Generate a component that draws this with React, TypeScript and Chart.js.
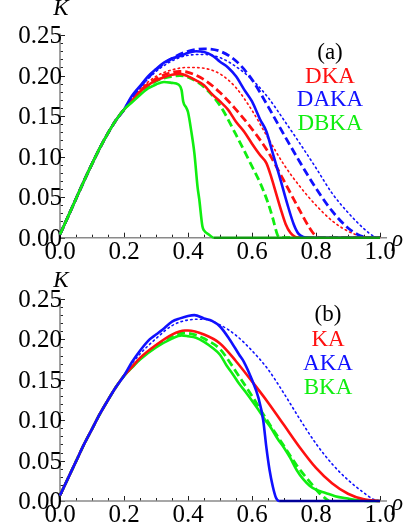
import React, { useEffect, useRef } from 'react';
import { Chart, registerables } from 'chart.js';

Chart.register(...registerables);

// ---------- colours ----------
const RED = '#ff1010';
const BLUE = '#1010ff';
const GREEN = '#10ee10';
const DARK_GREEN = '#119911';
const DARK_BLUE = '#000099';
const AXIS_COLOR = '#8a8a8a';
const FONT = '"Liberation Serif", "Times New Roman", serif';

// ---------- ticks ----------
const X_TICKS = [0, 0.2, 0.4, 0.6, 0.8, 1.0];
const X_TICK_LABELS = ['0.0', '0.2', '0.4', '0.6', '0.8', '1.0'];
const Y_TICKS = [0, 0.05, 0.1, 0.15, 0.2, 0.25];
const Y_TICK_LABELS = ['0.00', '0.05', '0.10', '0.15', '0.20', '0.25'];
const X_MINOR_STEP = 0.05;
const Y_MINOR_STEP = 0.01;
const X_AXIS_END = 1.022;
const Y_AXIS_END = 0.252;

// ---------- panel (a) data ----------
const A_RISE_X = [0, 0.025, 0.05, 0.075, 0.1, 0.125, 0.15, 0.175, 0.2];
const A_RISE_Y = [0.004, 0.026, 0.048, 0.07, 0.091, 0.111, 0.129, 0.145, 0.158];

const A_DKA_X = [0.225, 0.25, 0.275, 0.3, 0.325, 0.35, 0.375, 0.4, 0.425, 0.45, 0.475, 0.5, 0.525, 0.55, 0.575, 0.6, 0.625, 0.645, 0.66, 0.675, 0.69, 0.705, 0.72, 0.735, 0.75, 1.0];
const A_DKA_Y = [0.169, 0.18, 0.188, 0.194, 0.198, 0.201, 0.202, 0.199, 0.194, 0.188, 0.177, 0.168, 0.158, 0.143, 0.131, 0.116, 0.102, 0.092, 0.075, 0.055, 0.035, 0.017, 0.006, 0.001, 0, 0];

const A_DKA_DASH_X = [0.225, 0.25, 0.3, 0.35, 0.375, 0.4, 0.45, 0.5, 0.55, 0.6, 0.65, 0.7, 0.75, 0.78, 0.8, 0.82, 1.0];
const A_DKA_DASH_Y = [0.17, 0.181, 0.196, 0.204, 0.205, 0.204, 0.195, 0.179, 0.158, 0.134, 0.106, 0.07, 0.033, 0.012, 0.002, 0, 0];

const A_DKA_DOT_X = [0.225, 0.25, 0.3, 0.35, 0.4, 0.45, 0.5, 0.55, 0.6, 0.65, 0.7, 0.75, 0.8, 0.85, 0.9, 0.95, 0.97, 1.0];
const A_DKA_DOT_Y = [0.171, 0.183, 0.199, 0.207, 0.21, 0.209, 0.202, 0.185, 0.157, 0.123, 0.09, 0.063, 0.04, 0.021, 0.008, 0.001, 0, 0];

const A_DAKA_X = [0.225, 0.25, 0.275, 0.3, 0.325, 0.35, 0.375, 0.4, 0.425, 0.45, 0.475, 0.5, 0.525, 0.55, 0.575, 0.6, 0.625, 0.645, 0.665, 0.69, 0.71, 0.73, 0.745, 0.76, 0.78, 1.0];
const A_DAKA_Y = [0.175, 0.187, 0.199, 0.208, 0.216, 0.221, 0.224, 0.228, 0.23, 0.229, 0.225, 0.217, 0.21, 0.199, 0.183, 0.168, 0.146, 0.131, 0.104, 0.07, 0.042, 0.017, 0.005, 0.001, 0, 0];

const A_DAKA_DASH_X = [0.225, 0.25, 0.3, 0.35, 0.4, 0.45, 0.5, 0.55, 0.6, 0.65, 0.7, 0.75, 0.8, 0.85, 0.9, 0.93, 0.95, 0.97, 1.0];
const A_DAKA_DASH_Y = [0.173, 0.186, 0.207, 0.221, 0.23, 0.233, 0.23, 0.218, 0.195, 0.162, 0.127, 0.093, 0.061, 0.033, 0.012, 0.004, 0.001, 0, 0];

const A_DAKA_DOT_X = [0.225, 0.25, 0.3, 0.35, 0.4, 0.45, 0.5, 0.55, 0.6, 0.65, 0.7, 0.75, 0.8, 0.85, 0.9, 0.95, 0.98, 1.0];
const A_DAKA_DOT_Y = [0.172, 0.185, 0.205, 0.218, 0.225, 0.226, 0.222, 0.211, 0.195, 0.173, 0.145, 0.116, 0.086, 0.055, 0.031, 0.011, 0.002, 0];

const A_DBKA_X = [0.225, 0.25, 0.275, 0.3, 0.325, 0.35, 0.37, 0.38, 0.385, 0.395, 0.4, 0.41, 0.42, 0.43, 0.435, 0.445, 0.45, 0.465, 0.48, 1.0];
const A_DBKA_Y = [0.167, 0.176, 0.184, 0.189, 0.192, 0.191, 0.189, 0.182, 0.168, 0.16, 0.155, 0.132, 0.104, 0.062, 0.048, 0.014, 0.009, 0.004, 0, 0];

const A_DBKA_DASH_X = [0.225, 0.25, 0.3, 0.35, 0.375, 0.4, 0.45, 0.5, 0.55, 0.6, 0.625, 0.65, 0.665, 0.68, 0.69, 1.0];
const A_DBKA_DASH_Y = [0.168, 0.178, 0.193, 0.199, 0.2, 0.198, 0.186, 0.163, 0.127, 0.088, 0.068, 0.043, 0.024, 0.003, 0, 0];

const A_NAMES = ['DKA', 'DAKA', 'DBKA'];

// ---------- panel (b) data ----------
const B_RISE_X = [0, 0.025, 0.05, 0.075, 0.1, 0.125, 0.15, 0.175, 0.2];
const B_RISE_Y = [0.007, 0.028, 0.049, 0.07, 0.089, 0.108, 0.125, 0.141, 0.155];

const B_KA_X = [0.225, 0.25, 0.3, 0.35, 0.39, 0.4, 0.45, 0.5, 0.55, 0.6, 0.65, 0.7, 0.75, 0.8, 0.85, 0.9, 0.95, 1.0];
const B_KA_Y = [0.166, 0.177, 0.193, 0.206, 0.211, 0.211, 0.206, 0.195, 0.173, 0.148, 0.122, 0.094, 0.066, 0.041, 0.022, 0.009, 0.002, 0];

const B_AKA_X = [0.225, 0.25, 0.28, 0.3, 0.32, 0.35, 0.375, 0.4, 0.42, 0.45, 0.475, 0.5, 0.53, 0.56, 0.575, 0.6, 0.62, 0.635, 0.645, 0.655, 0.665, 0.675, 0.685, 1.0];
const B_AKA_Y = [0.172, 0.186, 0.2, 0.206, 0.212, 0.222, 0.226, 0.229, 0.23, 0.226, 0.223, 0.216, 0.2, 0.181, 0.172, 0.15, 0.128, 0.1, 0.066, 0.038, 0.018, 0.004, 0, 0];

const B_AKA_DOT_X = [0.225, 0.25, 0.3, 0.35, 0.4, 0.45, 0.5, 0.55, 0.6, 0.65, 0.7, 0.75, 0.8, 0.85, 0.9, 0.95, 0.98, 1.0];
const B_AKA_DOT_Y = [0.17, 0.182, 0.201, 0.217, 0.224, 0.225, 0.218, 0.205, 0.186, 0.163, 0.133, 0.101, 0.071, 0.046, 0.026, 0.01, 0.002, 0];

const B_BKA_X = [0.225, 0.25, 0.3, 0.35, 0.38, 0.4, 0.425, 0.45, 0.475, 0.5, 0.52, 0.54, 0.56, 0.58, 0.6, 0.62, 0.64, 0.66, 0.68, 0.7, 0.72, 0.74, 0.76, 0.78, 0.8, 0.83, 0.86, 0.9, 0.93, 0.96, 1.0];
const B_BKA_Y = [0.165, 0.175, 0.19, 0.201, 0.205, 0.204, 0.202, 0.197, 0.19, 0.181, 0.168, 0.157, 0.145, 0.135, 0.124, 0.113, 0.101, 0.09, 0.077, 0.066, 0.053, 0.038, 0.027, 0.019, 0.014, 0.01, 0.006, 0.003, 0.001, 0, 0];

const B_BKA_DASH_X = [0.225, 0.25, 0.3, 0.35, 0.39, 0.42, 0.45, 0.5, 0.53, 0.55, 0.6, 0.65, 0.7, 0.74, 0.78, 0.81, 0.83, 0.84];
const B_BKA_DASH_Y = [0.166, 0.176, 0.192, 0.204, 0.208, 0.206, 0.201, 0.188, 0.172, 0.16, 0.13, 0.098, 0.068, 0.044, 0.024, 0.01, 0.003, 0];

const B_NAMES = ['KA', 'AKA', 'BKA'];

// ---------- helpers ----------
type Style = 'solid' | 'dash' | 'dot';
interface Series {
  xs: number[];
  ys: number[];
  color: string;
  style: Style;
  zeroColor?: string;
}

function makeDataset(s: Series) {
  const data = s.xs.map((x, i) => ({ x, y: s.ys[i] }));
  const ds: any = {
    data,
    borderColor: s.color,
    pointRadius: 0,
    pointHoverRadius: 0,
    fill: false,
    clip: false,
    cubicInterpolationMode: 'monotone',
    borderCapStyle: 'butt',
    borderJoinStyle: 'round',
  };
  if (s.style === 'solid') {
    ds.borderWidth = 2.6;
  } else if (s.style === 'dash') {
    ds.borderWidth = 2.8;
    ds.borderDash = [8, 4];
  } else {
    ds.borderWidth = 1.6;
    ds.borderDash = [1.5, 3.4];
    ds.borderCapStyle = 'round';
  }
  if (s.zeroColor) {
    const zc = s.zeroColor;
    ds.segment = {
      borderColor: (c: any) => (c.p0.parsed.y === 0 && c.p1.parsed.y === 0 ? zc : undefined),
    };
  }
  return ds;
}

interface PanelCfg {
  height: number;
  padTop: number;
  padBottom: number;
  series: Series[];
  tag: string;
  names: string[];
  nameColors: string[];
  legendX: number;
  legendY: number[]; // tag + 3 names (middle y)
  kBaseline: number;
}

function mmaPlugin(cfg: PanelCfg) {
  return {
    id: 'mmaAxes',
    beforeDatasetsDraw(chart: any) {
      const { ctx } = chart;
      const xs = chart.scales.x;
      const ys = chart.scales.y;
      const ox = xs.getPixelForValue(0);
      const oy = ys.getPixelForValue(0);
      const xe = xs.getPixelForValue(X_AXIS_END);
      const ye = ys.getPixelForValue(Y_AXIS_END);
      ctx.save();
      // ticks
      ctx.strokeStyle = '#222';
      ctx.lineWidth = 1;
      ctx.beginPath();
      for (let i = 0; i * X_MINOR_STEP <= 1.0001; i++) {
        const v = i * X_MINOR_STEP;
        const px = Math.round(xs.getPixelForValue(v)) + 0.5;
        const len = i % 4 === 0 ? 5 : 3;
        ctx.moveTo(px, oy);
        ctx.lineTo(px, oy - len);
      }
      for (let i = 0; i * Y_MINOR_STEP <= 0.2501; i++) {
        const v = i * Y_MINOR_STEP;
        const py = Math.round(ys.getPixelForValue(v)) + 0.5;
        const len = i % 5 === 0 ? 5 : 3;
        ctx.moveTo(ox, py);
        ctx.lineTo(ox + len, py);
      }
      ctx.stroke();
      // axis lines
      ctx.strokeStyle = AXIS_COLOR;
      ctx.lineWidth = 1.6;
      ctx.beginPath();
      ctx.moveTo(ox, oy);
      ctx.lineTo(xe, oy);
      ctx.moveTo(ox, oy);
      ctx.lineTo(ox, ye);
      ctx.stroke();

      // tick labels
      ctx.fillStyle = '#000';
      ctx.font = `25px ${FONT}`;
      ctx.textAlign = 'center';
      ctx.textBaseline = 'alphabetic';
      X_TICKS.forEach((v, i) => {
        ctx.fillText(X_TICK_LABELS[i], xs.getPixelForValue(v), oy + 21);
      });
      ctx.textAlign = 'right';
      Y_TICKS.forEach((v, i) => {
        ctx.fillText(Y_TICK_LABELS[i], ox + 2, ys.getPixelForValue(v) + 8);
      });
      // axis names
      ctx.font = `italic 23px ${FONT}`;
      ctx.textAlign = 'center';
      ctx.fillText('K', ox + 1, cfg.kBaseline);
      ctx.textAlign = 'left';
      ctx.fillText('\u03C1', xe + 5, oy + 8.5);

      // legend
      ctx.font = `23px ${FONT}`;
      ctx.textAlign = 'center';
      ctx.textBaseline = 'middle';
      ctx.fillStyle = '#000';
      ctx.fillText(cfg.tag, cfg.legendX, cfg.legendY[0]);
      cfg.names.forEach((n, i) => {
        ctx.fillStyle = cfg.nameColors[i];
        ctx.fillText(n, cfg.legendX, cfg.legendY[i + 1]);
      });
      ctx.restore();
    },
  };
}

function Panel({ cfg }: { cfg: PanelCfg }) {
  const ref = useRef<HTMLCanvasElement | null>(null);
  useEffect(() => {
    if (!ref.current) return;
    const chart = new Chart(ref.current, {
      type: 'line',
      data: { datasets: cfg.series.map(makeDataset) },
      options: {
        responsive: false,
        maintainAspectRatio: false,
        animation: false,
        layout: { padding: { left: 60, right: 33, top: cfg.padTop, bottom: cfg.padBottom } },
        scales: {
          x: { type: 'linear', min: 0, max: 1, display: false },
          y: { type: 'linear', min: 0, max: 0.25, display: false },
        },
        plugins: {
          legend: { display: false },
          tooltip: { enabled: false },
        },
        events: [],
      } as any,
      plugins: [mmaPlugin(cfg)],
    });
    return () => chart.destroy();
  }, [cfg]);
  return (
    <canvas
      ref={ref}
      width={413}
      height={cfg.height}
      style={{ display: 'block', width: 413, height: cfg.height }}
    />
  );
}

const join = (a: number[], b: number[]) => a.concat(b);

const PANEL_A: PanelCfg = {
  height: 262,
  padTop: 35,
  padBottom: 24.3,
  tag: '(a)',
  names: A_NAMES,
  nameColors: [RED, BLUE, GREEN],
  legendX: 330,
  legendY: [53, 77, 100, 124],
  kBaseline: 15,
  series: [
    { xs: join(A_RISE_X, A_DBKA_X), ys: join(A_RISE_Y, A_DBKA_Y), color: GREEN, style: 'solid', zeroColor: DARK_GREEN },
    { xs: join(A_RISE_X, A_DAKA_X), ys: join(A_RISE_Y, A_DAKA_Y), color: BLUE, style: 'solid' },
    { xs: join(A_RISE_X, A_DKA_X), ys: join(A_RISE_Y, A_DKA_Y), color: RED, style: 'solid' },
    { xs: join(A_RISE_X, A_DBKA_DASH_X), ys: join(A_RISE_Y, A_DBKA_DASH_Y), color: GREEN, style: 'dash' },
    { xs: join(A_RISE_X, A_DAKA_DASH_X), ys: join(A_RISE_Y, A_DAKA_DASH_Y), color: BLUE, style: 'dash' },
    { xs: join(A_RISE_X, A_DKA_DASH_X), ys: join(A_RISE_Y, A_DKA_DASH_Y), color: RED, style: 'dash' },
    { xs: join(A_RISE_X, A_DAKA_DOT_X), ys: join(A_RISE_Y, A_DAKA_DOT_Y), color: BLUE, style: 'dot' },
    { xs: join(A_RISE_X, A_DKA_DOT_X), ys: join(A_RISE_Y, A_DKA_DOT_Y), color: RED, style: 'dot' },
  ],
};

const PANEL_B: PanelCfg = {
  height: 263,
  padTop: 37,
  padBottom: 24,
  tag: '(b)',
  names: B_NAMES,
  nameColors: [RED, BLUE, GREEN],
  legendX: 328,
  legendY: [53, 78, 102, 126],
  kBaseline: 25,
  series: [
    { xs: join(B_RISE_X, B_AKA_X), ys: join(B_RISE_Y, B_AKA_Y), color: BLUE, style: 'solid', zeroColor: DARK_BLUE },
    { xs: join(B_RISE_X, B_KA_X), ys: join(B_RISE_Y, B_KA_Y), color: RED, style: 'solid' },
    { xs: join(B_RISE_X, B_BKA_X), ys: join(B_RISE_Y, B_BKA_Y), color: GREEN, style: 'solid' },
    { xs: join(B_RISE_X, B_BKA_DASH_X), ys: join(B_RISE_Y, B_BKA_DASH_Y), color: GREEN, style: 'dash' },
    { xs: join(B_RISE_X, B_AKA_DOT_X), ys: join(B_RISE_Y, B_AKA_DOT_Y), color: BLUE, style: 'dot' },
  ],
};

export default function App() {
  return (
    <div style={{ position: 'absolute', left: 0, top: 0, width: 413, height: 525, background: '#fff' }}>
      <Panel cfg={PANEL_A} />
      <Panel cfg={PANEL_B} />
    </div>
  );
}
